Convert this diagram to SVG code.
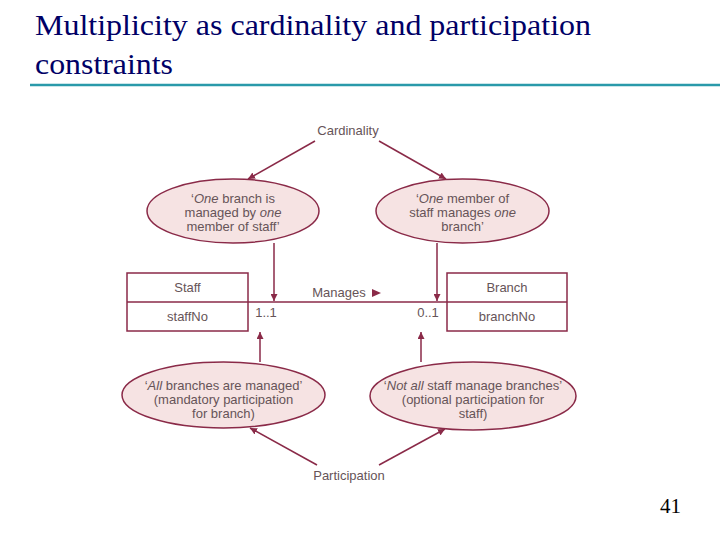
<svg xmlns="http://www.w3.org/2000/svg" width="720" height="540" viewBox="0 0 720 540">
<defs>
<style>
.title{font-family:"Liberation Serif","Times New Roman",serif;font-size:30px;fill:#000066}
.t{font-family:"Liberation Sans",Arial,sans-serif;font-size:13px;fill:#665458;text-anchor:middle}
.ln{stroke:#8a2a48;stroke-width:1.5;fill:none}
.ell{fill:#f6e3e3;stroke:#8a2a48;stroke-width:1.5}
.box{fill:#ffffff;stroke:#8a2a48;stroke-width:1.5}
</style>
<marker id="ah" viewBox="0 0 10 10" refX="10" refY="5" markerWidth="7" markerHeight="7" orient="auto" markerUnits="userSpaceOnUse">
<path d="M0,0 L10,5 L0,10 z" fill="#8a2a48"/>
</marker>
</defs>
<rect width="720" height="540" fill="#ffffff"/>
<g id="title">
<text class="title" x="35" y="35" textLength="556" lengthAdjust="spacingAndGlyphs">Multiplicity as cardinality and participation</text>
<text class="title" x="35" y="74" textLength="138" lengthAdjust="spacingAndGlyphs">constraints</text>
<line x1="30" y1="85" x2="720" y2="85" stroke="#2a9aaa" stroke-width="2.5"/>
</g>
<g id="connectors">
<line class="ln" x1="315" y1="141" x2="248" y2="179" marker-end="url(#ah)"/>
<line class="ln" x1="379" y1="141" x2="446" y2="179" marker-end="url(#ah)"/>
<line class="ln" x1="274" y1="243" x2="274" y2="301" marker-end="url(#ah)"/>
<line class="ln" x1="437" y1="243" x2="437" y2="301" marker-end="url(#ah)"/>
<line class="ln" x1="248" y1="302" x2="447" y2="302"/>
<line class="ln" x1="260" y1="362" x2="260" y2="332" marker-end="url(#ah)"/>
<line class="ln" x1="421" y1="362" x2="421" y2="332" marker-end="url(#ah)"/>
<line class="ln" x1="317" y1="465" x2="250" y2="428" marker-end="url(#ah)"/>
<line class="ln" x1="379" y1="465" x2="445" y2="429" marker-end="url(#ah)"/>
<text class="t" x="339" y="297">Manages</text>
<path d="M372,289 L381,293 L372,297 z" fill="#8a2a48"/>
<text class="t" x="266" y="317">1..1</text>
<text class="t" x="428" y="317">0..1</text>
</g>
<g id="cardinality">
<text class="t" x="348" y="135">Cardinality</text>
</g>
<g id="participation">
<text class="t" x="349" y="480">Participation</text>
</g>
<g id="card-left">
<ellipse class="ell" cx="233" cy="211" rx="86" ry="32"/>
<text class="t" x="233" y="203">‘<tspan font-style="italic">One</tspan> branch is</text>
<text class="t" x="233" y="217">managed by <tspan font-style="italic">one</tspan></text>
<text class="t" x="233" y="231">member of staff’</text>
</g>
<g id="card-right">
<ellipse class="ell" cx="462.5" cy="211" rx="86.5" ry="32"/>
<text class="t" x="462.5" y="203">‘<tspan font-style="italic">One</tspan> member of</text>
<text class="t" x="462.5" y="217">staff manages <tspan font-style="italic">one</tspan></text>
<text class="t" x="462.5" y="231">branch’</text>
</g>
<g id="staff">
<rect class="box" x="127" y="273" width="121" height="58"/>
<line class="ln" x1="127" y1="302" x2="248" y2="302"/>
<text class="t" x="187.5" y="292">Staff</text>
<text class="t" x="187.5" y="321">staffNo</text>
</g>
<g id="branch">
<rect class="box" x="447" y="273" width="120" height="58"/>
<line class="ln" x1="447" y1="302" x2="567" y2="302"/>
<text class="t" x="507" y="292">Branch</text>
<text class="t" x="507" y="321">branchNo</text>
</g>
<g id="part-left">
<ellipse class="ell" cx="223.5" cy="395" rx="101.5" ry="33"/>
<text class="t" x="223.5" y="390">‘<tspan font-style="italic">All</tspan> branches are managed’</text>
<text class="t" x="223.5" y="404">(mandatory participation</text>
<text class="t" x="223.5" y="418">for branch)</text>
</g>
<g id="part-right">
<ellipse class="ell" cx="473" cy="396" rx="103" ry="34"/>
<text class="t" x="473" y="390">‘<tspan font-style="italic">Not all</tspan> staff manage branches’</text>
<text class="t" x="473" y="404">(optional participation for</text>
<text class="t" x="473" y="418">staff)</text>
</g>
<g id="page">
<text x="660" y="513" font-family="Liberation Serif,'Times New Roman',serif" font-size="21" fill="#000000">41</text>
</g>
</svg>
